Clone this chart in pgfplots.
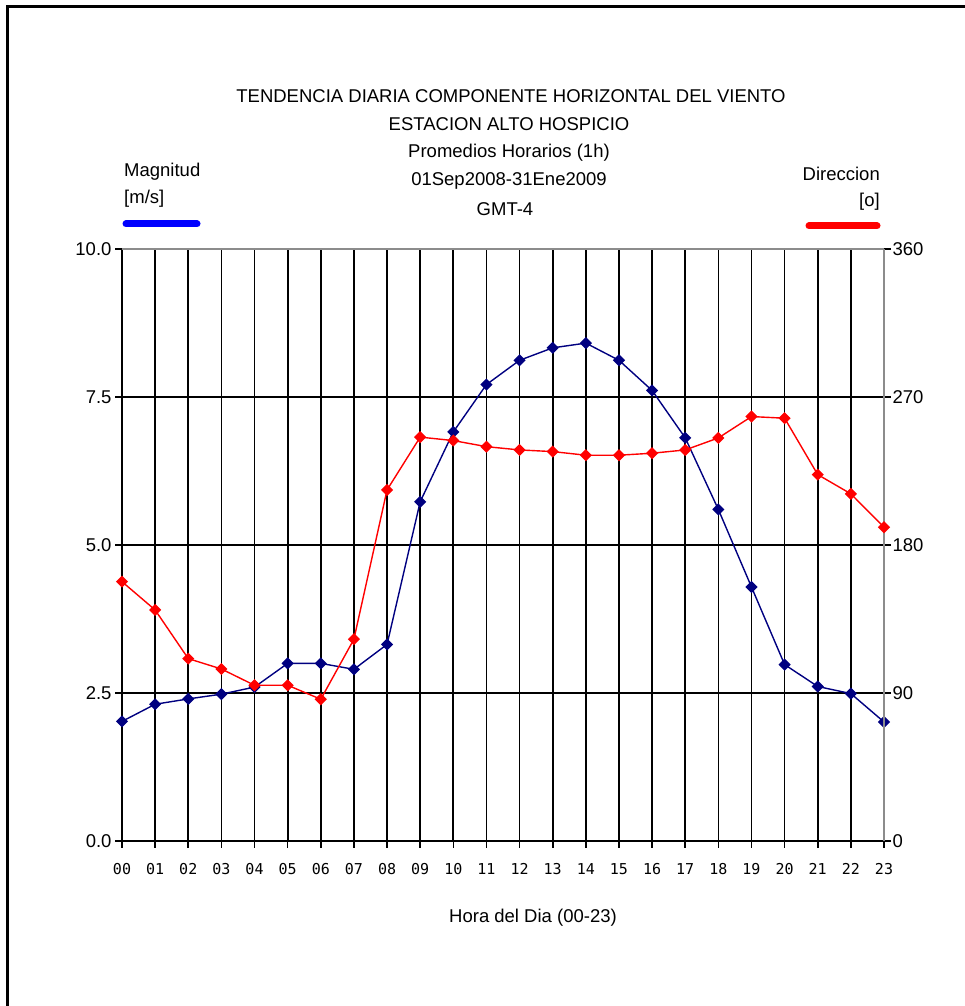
\documentclass[border=0pt]{standalone}
\usepackage{fontspec}
\setmainfont{Liberation Sans}
\newfontfamily\tickmono{DejaVu Sans Mono}
\usepackage{pgfplots}
\pgfplotsset{compat=1.18}

\definecolor{magblue}{RGB}{0,0,128}
\definecolor{legblue}{RGB}{0,0,255}
\definecolor{dirred}{RGB}{255,0,0}
\definecolor{axisgray}{RGB}{140,140,140}

% hourly means: hour, magnitude [m/s]
\pgfplotstableread{
h   mag
0   2.02
1   2.31
2   2.40
3   2.48
4   2.60
5   3.00
6   3.00
7   2.90
8   3.32
9   5.73
10  6.91
11  7.71
12  8.12
13  8.33
14  8.41
15  8.12
16  7.61
17  6.81
18  5.60
19  4.29
20  2.98
21  2.61
22  2.49
23  2.01
}\magtable

% hourly means: hour, direction [deg]
\pgfplotstableread{
h   dir
0   157.7
1   140.5
2   110.9
3   104.6
4   94.7
5   94.7
6   86.2
7   122.7
8   213.5
9   245.6
10  243.5
11  239.8
12  237.8
13  236.8
14  234.6
15  234.6
16  235.8
17  237.8
18  245.1
19  258.1
20  257.1
21  222.8
22  211.1
23  190.8
}\dirtable

\begin{document}
\begin{tikzpicture}
\useasboundingbox (0pt,0pt) rectangle (965pt,1006pt);
% frame
\draw[line width=2.5pt] (7.3pt,0pt) -- (7.3pt,999.7pt) -- (965pt,999.7pt);

\begin{scope}[every node/.style={font=\fontsize{18.5}{22}\selectfont, inner sep=0pt}]
  \node at (511pt,910pt) {TENDENCIA DIARIA COMPONENTE HORIZONTAL DEL VIENTO};
  \node at (509pt,882pt) {ESTACION ALTO HOSPICIO};
  \node at (509pt,853pt) {Promedios Horarios (1h)};
  \node at (509pt,825pt) {01Sep2008-31Ene2009};
  \node at (505pt,797pt) {GMT-4};
  \node[anchor=west] at (124pt,834pt) {Magnitud};
  \node[anchor=west] at (124pt,807pt) {[m/s]};
  \node[anchor=east] at (880pt,832pt) {Direccion};
  \node[anchor=east] at (880pt,804pt) {[o]};
  \node at (533pt,88pt) {Hora del Dia (00-23)};
\end{scope}
% series keys
\draw[legblue, line width=7pt, line cap=round] (126pt,782pt) -- (197pt,782pt);
\draw[dirred, line width=7pt, line cap=round] (809pt,780pt) -- (877pt,780pt);

\pgfplotsset{
  common/.style={
    at={(122pt,165pt)}, anchor=south west,
    scale only axis, width=762pt, height=592pt,
    xmin=0, xmax=23,
    tick align=outside, major tick length=7pt,
    tick style={black, line width=1.6pt},
    axis line style={-, line width=1.7pt},
    /pgf/number format/assume math mode=true,
    ticklabel style={font=\fontsize{18.5}{22}\selectfont},
  }
}

\begin{axis}[common,
  ymin=0, ymax=10,
  axis x line*=bottom, axis y line*=left,
  xtick={0,...,23},
  xticklabels={00,01,02,03,04,05,06,07,08,09,10,11,12,13,14,15,16,17,18,19,20,21,22,23},
  xticklabel style={font=\tickmono\fontsize{15}{18}\selectfont, yshift=-12pt},
  ytick={0,2.5,5,7.5,10},
  yticklabel style={/pgf/number format/.cd, fixed, fixed zerofill, precision=1},
  grid=major, grid style={black, line width=1.7pt},
]
  \draw[axisgray, line width=1.9pt] (rel axis cs:0,1) -- (rel axis cs:1,1);
  \addplot[magblue, line width=1.4pt, mark=square*, mark size=3.6pt,
    mark options={rotate=45, fill=magblue, draw=magblue}] table[x=h, y=mag] {\magtable};
\end{axis}

\begin{axis}[common,
  ymin=0, ymax=360,
  axis x line=none, axis y line*=right,
  y axis line style={axisgray, line width=1.9pt},
  ytick={0,90,180,270,360},
  yticklabel style={xshift=-2pt},
]
  \addplot[dirred, line width=1.4pt, mark=square*, mark size=3.6pt,
    mark options={rotate=45, fill=dirred, draw=dirred}] table[x=h, y=dir] {\dirtable};
\end{axis}
\end{tikzpicture}
\end{document}
